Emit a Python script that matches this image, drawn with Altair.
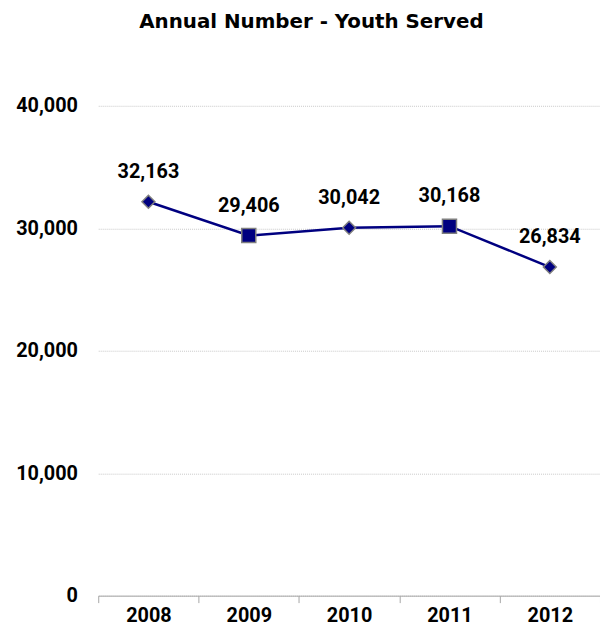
import altair as alt
import pandas as pd

years = ["2008", "2009", "2010", "2011", "2012"]
youth = [32163, 29406, 30042, 30168, 26834]
shapes = ["diamond", "square", "diamond", "square", "diamond"]
sizes = [170, 200, 170, 200, 170]
labels = ["32,163", "29,406", "30,042", "30,168", "26,834"]

df = pd.DataFrame({"year": years, "youth": youth, "shape": shapes, "size": sizes, "label": labels})

FONT = "Roboto"
FS = 20

x = alt.X("year:O", title=None,
          scale=alt.Scale(type="band", paddingInner=0, paddingOuter=0),
          axis=alt.Axis(labelAngle=0, tickBand="extent", domainColor="#a6a6a6",
                        tickColor="#a6a6a6", tickSize=7, labelFont=FONT, labelFontSize=FS,
                        labelFontWeight="bold", labelColor="#000000", labelPadding=3))
y = alt.Y("youth:Q", title=None,
          scale=alt.Scale(domain=[0, 40000], nice=False),
          axis=alt.Axis(values=[0, 10000, 20000, 30000, 40000], format=",d", domain=False,
                        ticks=False, gridColor="#c8c8c8", gridDash=[1, 1], gridWidth=1,
                        labelFont=FONT, labelFontSize=FS, labelFontWeight="bold",
                        labelColor="#000000", labelPadding=21))

base = alt.Chart(df).encode(x=x, y=y)

line = base.mark_line(color="#000080", strokeWidth=2.5)
pts = base.mark_point(filled=True, fill="#000080", stroke="#7f7f7f", strokeWidth=1.5, opacity=1).encode(
    shape=alt.Shape("shape:N", scale=None),
    size=alt.Size("size:Q", scale=None))
txt = base.mark_text(dy=-30, font=FONT, fontSize=FS, fontWeight="bold", color="#000000").encode(
    text="label:N")

chart = (line + pts + txt).properties(
    width=506, height=494,
    title=alt.TitleParams("Annual Number - Youth Served", font="DejaVu Sans", fontSize=20,
                          fontWeight="bold", color="#000000", offset=64, dx=-38),
    autosize=alt.AutoSizeParams(type="none"),
    padding={"left": 91, "top": 96, "right": 0, "bottom": 32},
).configure_view(stroke=None)

chart.save("out.html", embed_options={"renderer": "svg", "actions": False})
